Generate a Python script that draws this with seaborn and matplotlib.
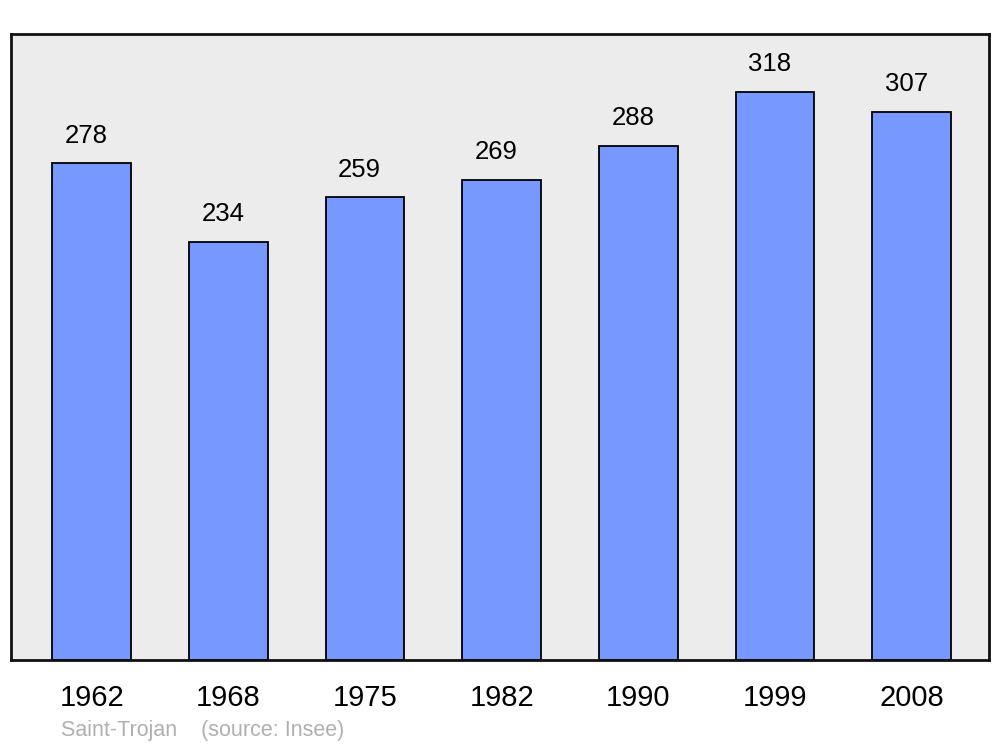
import numpy as np
import pandas as pd
import seaborn as sns
import matplotlib.pyplot as plt

# données
years = ['1962', '1968', '1975', '1982', '1990', '1999', '2008']
population = [278, 234, 259, 269, 288, 318, 307]
commune = 'Saint-Trojan'
source = '(source: Insee)'

df = pd.DataFrame({'annee': years, 'pop': population})

sns.set_style('white')
plt.rcParams['font.family'] = ['Liberation Sans', 'DejaVu Sans']

fig = plt.figure(figsize=(10, 7.47), dpi=100)
ax = fig.add_axes([0.011, 0.1165, 0.978, 0.838])
ax.set_facecolor('#ececec')

sns.barplot(data=df, x='annee', y='pop', color='#7799ff', saturation=1,
            width=0.575, edgecolor='black', linewidth=1.3, ax=ax)

# étiquettes au-dessus des barres
for i, v in enumerate(population):
    ax.annotate(str(v), (i, v), xytext=(-4, 20), textcoords='offset points',
                ha='center', va='center', fontsize=18.5, color='black')

ax.set_xlim(-0.59, 6.565)
ax.set_ylim(0, 350.5)
ax.set_xlabel('')
ax.set_ylabel('')
ax.set_yticks([])
ax.tick_params(axis='x', length=0, pad=17, labelsize=21, labelcolor='black')
for s in ax.spines.values():
    s.set_visible(True)
    s.set_linewidth(2)
    s.set_color('#111111')

fig.text(0.061, 0.022, commune + '    ' + source, fontsize=15.5,
         color='#b0b0b0', ha='left', va='center')

fig.savefig('out.png', dpi=100)
